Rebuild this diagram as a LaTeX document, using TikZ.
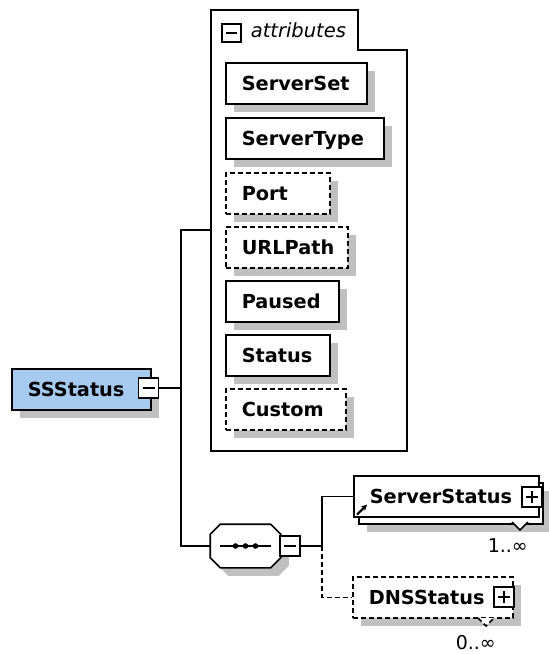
\documentclass[tikz,border=0pt]{standalone}
\usepackage{fontspec}
\setmainfont{DejaVu Sans}
\usetikzlibrary{shadows,arrows.meta}

\definecolor{elemblue}{RGB}{166,202,240}
\definecolor{shadowgray}{RGB}{192,192,192}
\newcommand\elemfont{\fontsize{19.3}{22}\selectfont\bfseries\hyphenpenalty=10000 }

\tikzset{
  elem/.style={draw, fill=white, inner xsep=16, inner ysep=0, minimum height=41,
    text height=15pt, text depth=1pt, align=left, font=\elemfont, anchor=north west},
  boxshadow/.style={drop shadow={shadow xshift=8pt, shadow yshift=-8pt, fill=shadowgray, opacity=1}},
  opt/.style={dash pattern=on 5pt off 3pt},
  pmbox/.style={draw, fill=white, minimum width=20, minimum height=20, inner sep=0},
  minusbox/.style={pmbox, path picture={
    \draw ([xshift=4pt]path picture bounding box.west) -- ([xshift=-4pt]path picture bounding box.east);}},
  plusbox/.style={pmbox, path picture={
    \draw ([xshift=4pt]path picture bounding box.west) -- ([xshift=-4pt]path picture bounding box.east);
    \draw ([yshift=-4pt]path picture bounding box.north) -- ([yshift=4pt]path picture bounding box.south);}},
  card/.style={font=\fontsize{19}{22}\selectfont, inner sep=0, anchor=base west}
}

\begin{document}
\begin{tikzpicture}[x=1pt,y=-1pt,line width=1.6pt]
  \useasboundingbox (0,0) rectangle (549,654);

  % attribute group
  \draw (211,10) -- (358,10) -- (358,50) -- (407,50) -- (407,451) -- (211,451) -- cycle;
  \node[minusbox, minimum width=19, minimum height=18] (attrminus) at (231.5,33) {};
  \node[font=\fontsize{19.5}{22}\selectfont\itshape, inner sep=0, anchor=base west] (attrtitle) at (250,37) {attributes};
  \coordinate (attrs) at (211,230);

  \node[elem, boxshadow, text width=109pt] (serverset) at (225,62) {ServerSet};
  \node[elem, boxshadow, text width=126pt] (servertype) at (225,117) {ServerType};
  \node[elem, opt, boxshadow, text width=72pt] (port) at (225,172) {Port};
  \node[elem, opt, boxshadow, text width=90pt] (urlpath) at (225,226) {URLPath};
  \node[elem, boxshadow, text width=81pt] (paused) at (225,280) {Paused};
  \node[elem, boxshadow, text width=72pt] (status) at (225,334) {Status};
  \node[elem, opt, boxshadow, text width=88pt] (custom) at (225,388) {Custom};

  % root element
  \node[elem, fill=elemblue, boxshadow, text width=107pt] (ssstatus) at (11,368) {SSStatus};
  \node[minusbox] (ssminus) at (148.5,388) {};
  \coordinate (trunktop) at (181,230);
  \coordinate (trunkbot) at (181,546);
  \draw (ssminus.east) -- (ssminus.east -| trunktop);

  % sequence
  \node[minimum width=69, minimum height=42, inner sep=0] (seq) at (245.5,546) {};
  \filldraw[fill=white, boxshadow] ([xshift=10pt]seq.north west) -- ([xshift=-10pt]seq.north east)
    -- ([yshift=-10pt]seq.north east) -- ([yshift=10pt]seq.south east)
    -- ([xshift=-10pt]seq.south east) -- ([xshift=10pt]seq.south west)
    -- ([yshift=10pt]seq.south west) -- ([yshift=-10pt]seq.north west) -- cycle;
  \draw ([xshift=10pt]seq.west) -- ([xshift=-10pt]seq.east);
  \foreach \dx in {-10,0,10}
    \fill ([xshift=\dx pt]seq.center) circle (2.8pt);
  \node[minusbox] (seqminus) at (290,546) {};
  \draw (attrs) -- (trunktop) -- (trunkbot) -- (seq.west);

  % children
  \node[elem, boxshadow, text width=152pt] (srvback) at (358,482) {};
  \node[elem, text width=153pt] (srvfront) at (353,475) {ServerStatus};
  \node[plusbox] (srvplus) at (532,497) {};
  \draw[-{Stealth[length=6pt,width=6pt]}, line width=2pt] ([xshift=4pt,yshift=3pt]srvfront.south west) -- ++(10,-10);
  \draw[fill=white] (512,522) -- (520,530) -- (528,522);
  \node[card] (srvcard) at (487,552) {1..∞};

  \node[elem, opt, boxshadow, text width=128pt] (dns) at (352,576) {DNSStatus};
  \node[plusbox] (dnsplus) at (504,597) {};
  \draw[opt, fill=white] (478,618) -- (486,626) -- (494,618);
  \node[card] (dnscard) at (455,649) {0..∞};

  \coordinate (branch) at (322,546);
  \draw (seqminus.east) -- (branch) |- (srvfront.west);
  \draw[opt] (branch) |- (dns.west);
\end{tikzpicture}
\end{document}
